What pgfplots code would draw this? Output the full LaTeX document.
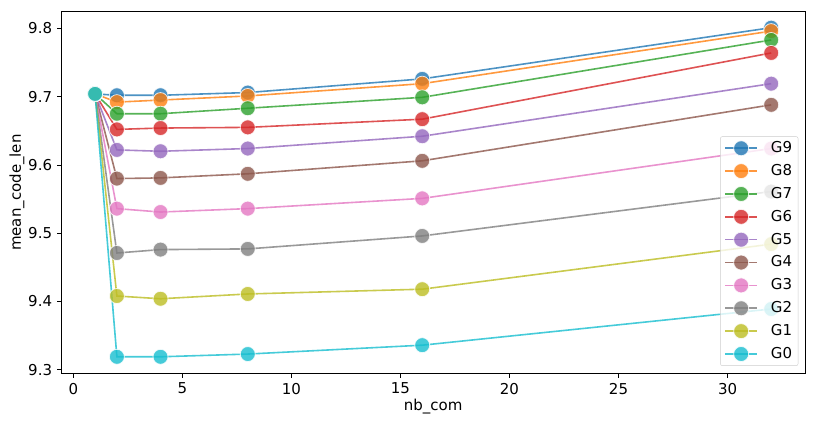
\documentclass[border=0pt]{standalone}
\usepackage{fontspec}
\setmainfont{DejaVu Sans}
\usepackage{pgfplots}
\pgfplotsset{compat=1.18}
\definecolor{c9}{HTML}{1F77B4}
\definecolor{c8}{HTML}{FF7F0E}
\definecolor{c7}{HTML}{2CA02C}
\definecolor{c6}{HTML}{D62728}
\definecolor{c5}{HTML}{9467BD}
\definecolor{c4}{HTML}{8C564B}
\definecolor{c3}{HTML}{E377C2}
\definecolor{c2}{HTML}{7F7F7F}
\definecolor{c1}{HTML}{BCBD22}
\definecolor{c0}{HTML}{17BECF}
\pgfplotsset{gstyle/.style={color=#1, line width=1.6bp, opacity=0.8, mark=*, mark size=7.5bp, mark options={draw=white, fill=#1, line width=0.8bp}}}
\newcommand{\fs}{\fontsize{15bp}{18bp}\selectfont}
\begin{document}
\fs
\begin{tikzpicture}
\begin{axis}[
  scale only axis, width=744bp, height=362.7bp,
  xmin=-0.55, xmax=33.55, ymin=9.294, ymax=9.825,
  xtick={0,5,10,15,20,25,30},
  ytick={9.3,9.4,9.5,9.6,9.7,9.8},
  yticklabel style={/pgf/number format/.cd, fixed, fixed zerofill, precision=1},
  /pgf/number format/assume math mode=true,
  tick pos=left, tick align=outside, major tick length=4bp,
  tick style={black, line width=0.8bp},
  axis line style={black, line width=0.8bp},
  every tick label/.append style={font=\fs, text=black},
  xlabel={nb\_com}, ylabel={mean\_code\_len},
  label style={font=\fs},
  xlabel style={at={(axis description cs:0.5,-0.091)}, anchor=center},
  ylabel style={at={(axis description cs:-0.0595,0.5)}, anchor=center},
  legend style={at={(1,0)}, anchor=south east, xshift=-6.7bp, yshift=8bp,
    font=\fs, draw=black!20, rounded corners=2bp, fill=white, fill opacity=0.8, text opacity=1,
    row sep=5.5bp, inner xsep=4bp, inner ysep=3bp,
    /tikz/every odd column/.append style={column sep=11bp}},
  legend cell align=left,
  legend image code/.code={\draw[mark repeat=2,mark phase=2,#1] plot coordinates {(0bp,0bp)(16bp,0bp)(32bp,0bp)};},
]
\addplot[gstyle=c9] coordinates {(1,9.704)(2,9.702)(4,9.702)(8,9.706)(16,9.726)(32,9.801)};
\addlegendentry{G9}
\addplot[gstyle=c8] coordinates {(1,9.704)(2,9.692)(4,9.695)(8,9.701)(16,9.719)(32,9.796)};
\addlegendentry{G8}
\addplot[gstyle=c7] coordinates {(1,9.704)(2,9.675)(4,9.675)(8,9.683)(16,9.699)(32,9.783)};
\addlegendentry{G7}
\addplot[gstyle=c6] coordinates {(1,9.704)(2,9.652)(4,9.654)(8,9.655)(16,9.667)(32,9.764)};
\addlegendentry{G6}
\addplot[gstyle=c5] coordinates {(1,9.704)(2,9.622)(4,9.620)(8,9.624)(16,9.642)(32,9.719)};
\addlegendentry{G5}
\addplot[gstyle=c4] coordinates {(1,9.704)(2,9.580)(4,9.581)(8,9.587)(16,9.606)(32,9.688)};
\addlegendentry{G4}
\addplot[gstyle=c3] coordinates {(1,9.704)(2,9.536)(4,9.531)(8,9.536)(16,9.551)(32,9.624)};
\addlegendentry{G3}
\addplot[gstyle=c2] coordinates {(1,9.704)(2,9.471)(4,9.476)(8,9.477)(16,9.496)(32,9.561)};
\addlegendentry{G2}
\addplot[gstyle=c1] coordinates {(1,9.704)(2,9.408)(4,9.404)(8,9.411)(16,9.418)(32,9.484)};
\addlegendentry{G1}
\addplot[gstyle=c0] coordinates {(1,9.704)(2,9.319)(4,9.319)(8,9.323)(16,9.336)(32,9.389)};
\addlegendentry{G0}
\end{axis}
\pgfresetboundingbox
\path[use as bounding box] ([xshift=-61.3bp,yshift=-51bp]current axis.south west) rectangle ([xshift=11bp,yshift=11.3bp]current axis.north east);
\end{tikzpicture}
\end{document}
